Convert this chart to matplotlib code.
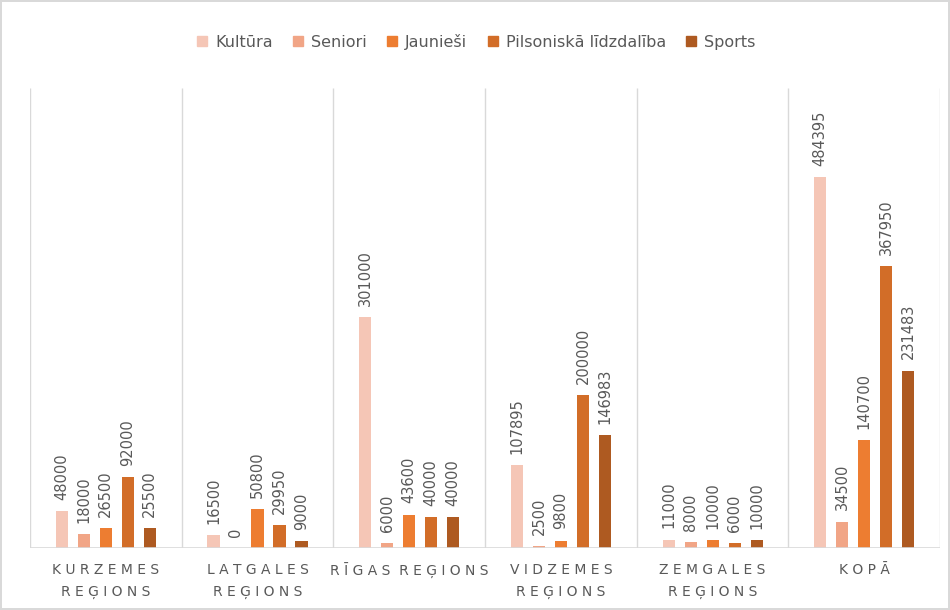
import matplotlib
matplotlib.use("Agg")
import matplotlib.pyplot as plt
import numpy as np

categories = ["KURZEMES\nREĢIONS", "LATGALES\nREĢIONS", "RĪGAS REĢIONS",
              "VIDZEMES\nREĢIONS", "ZEMGALES\nREĢIONS", "KOPĀ"]
series_names = ["Kultūra", "Seniori", "Jaunieši", "Pilsoniskā līdzdalība", "Sports"]
kultura = [48000, 16500, 301000, 107895, 11000, 484395]
seniori = [18000, 0, 6000, 2500, 8000, 34500]
jaunHesi = [26500, 50800, 43600, 9800, 10000, 140700]
pilsoniska = [92000, 29950, 40000, 200000, 6000, 367950]
sports = [25500, 9000, 40000, 146983, 10000, 231483]
series_values = [kultura, seniori, jaunHesi, pilsoniska, sports]
colors = ["#F5C6B6", "#F1A586", "#ED7D31", "#D26D28", "#AE5A21"]

def spaced(label):
    lines = []
    for line in label.split("\n"):
        words = [" ".join(w) for w in line.split(" ")]
        lines.append("  ".join(words))
    return "\n".join(lines)

fig = plt.figure(figsize=(9.5, 6.1), dpi=100, edgecolor="#D9D9D9", linewidth=1.5)
ax = fig.add_axes([0.0316, 0.1016, 0.958, 0.7541])

x = np.arange(len(categories))
step = 0.145
width = 0.08
ymax = 600000
for i, (name, vals, c) in enumerate(zip(series_names, series_values, colors)):
    pos = x + (i - 2) * step
    bars = ax.bar(pos, vals, width, color=c, label=name, zorder=3)
    for b, v in zip(bars, vals):
        ax.annotate(str(v), (b.get_x() + b.get_width() / 2, v),
                    xytext=(0, 8), textcoords="offset points",
                    rotation=90, ha="center", va="bottom",
                    fontsize=10.5, color="#595959")

ax.set_xlim(-0.5, len(categories) - 0.5)
ax.set_ylim(0, ymax)
ax.vlines(np.arange(len(categories) + 1) - 0.5, 0, ymax, color="#D9D9D9", lw=1, zorder=1)
ax.axhline(0, color="#D9D9D9", lw=1.2, zorder=4)
for s in ax.spines.values():
    s.set_visible(False)
ax.set_yticks([])
ax.set_xticks(x)
ax.set_xticklabels([spaced(c) for c in categories], fontsize=10, color="#595959",
                   linespacing=1.7)
ax.tick_params(axis="x", length=0, pad=11)

handles = [plt.Line2D([], [], marker="s", linestyle="none", markersize=7,
                      markerfacecolor=c, markeredgecolor=c) for c in colors]
fig.legend(handles, series_names, loc="center", bbox_to_anchor=(0.5, 0.931),
           ncol=5, frameon=False, fontsize=11.5, labelcolor="#595959",
           handletextpad=0.3, columnspacing=1.1, handlelength=1.0)

fig.savefig("out.png", dpi=100, edgecolor=fig.get_edgecolor())
